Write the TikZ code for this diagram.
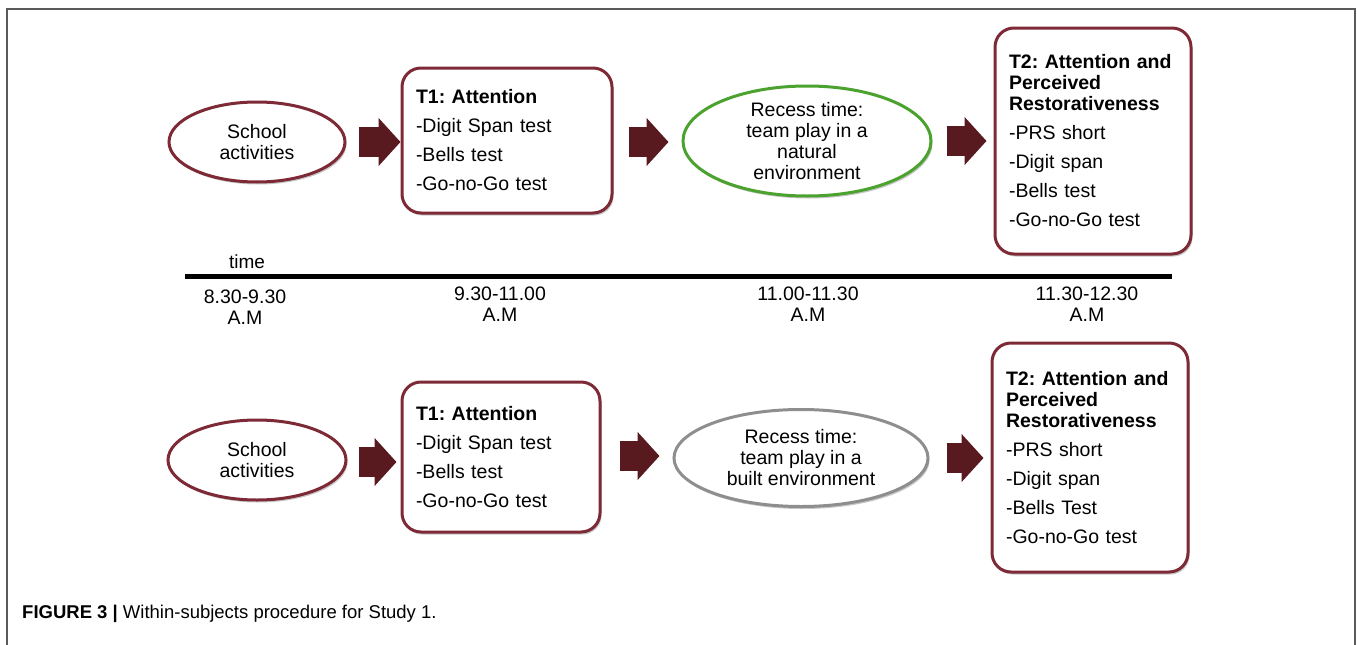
\documentclass[tikz,border=0pt]{standalone}
\usepackage{fontspec}
\setmainfont{Liberation Sans}
\usetikzlibrary{shapes.geometric,arrows.meta,shadows}
\definecolor{maroon}{HTML}{7D2A36}
\definecolor{arrowc}{HTML}{58191F}
\definecolor{natgreen}{HTML}{4CA22E}
\definecolor{builtgray}{HTML}{8E8E8E}
\definecolor{framegray}{HTML}{5A5A5A}
\tikzset{
  base/.style={font=\fontsize{19.5}{21}\selectfont},
  shad/.style={drop shadow={shadow xshift=1.5pt,shadow yshift=-2.5pt,opacity=0.22,fill=black}},
  oval/.style={base,ellipse,draw=maroon,line width=3pt,fill=white,align=center,inner sep=0pt,shad},
  greenoval/.style={oval,draw=natgreen},
  grayoval/.style={oval,draw=builtgray},
  testbox/.style={base,draw=maroon,line width=3pt,fill=white,rounded corners=19pt,align=left,inner xsep=14pt,inner ysep=0pt,shad},
  bigarrow/.style={draw=arrowc,line width=30pt,line cap=butt,-{Triangle[length=22pt,width=47pt]}},
  timelbl/.style={font=\fontsize{19.5}{21}\selectfont,align=center,inner sep=0pt},
  hd/.style={font=\bfseries}
}
\newcommand{\gap}{\\[8pt]}
\frenchspacing
\begin{document}
\begin{tikzpicture}[x=1pt,y=-1pt]
\useasboundingbox (0,0) rectangle (1357,645);
% frame
\draw[framegray,line width=1.6pt] (7,645) -- (7,9) -- (1355,9) -- (1355,645);

% ---------- top row ----------
\node[oval,minimum width=176,minimum height=80] (sa1) at (257,142) {School\\activities};
\node[testbox,text width=182,minimum height=145] (t1a) at (507,140.5)
  {\textbf{T1: Attention}\gap -Digit Span test\gap -Bells test\gap -Go-no-Go test};
\node[greenoval,minimum width=248,minimum height=110] (rna) at (807,141)
  {Recess time:\\team play in a\\natural\\environment};
\node[testbox,text width=168,minimum height=226] (t2a) at (1093,141)
  {\textbf{T2: Attention and}\\\textbf{Perceived}\\\textbf{Restorativeness}\gap -PRS short\gap -Digit span\gap -Bells test\gap -Go-no-Go test};

\draw[bigarrow] ([xshift=12pt]sa1.east) -- ++(42,0);
\draw[bigarrow] ([xshift=15pt,yshift=-1.5pt]t1a.east) -- ++(40,0);
\draw[bigarrow] ([xshift=14pt]rna.east) -- ++(40,0);

% ---------- timeline ----------
\coordinate (tl0) at (185,276);
\coordinate (tl1) at (1172,276);
\draw[black,line width=5pt] (tl0) -- (tl1);
\node[font=\fontsize{19}{21}\selectfont,inner sep=0pt] (tm) at (247,262) {time};
\node[timelbl] (p1) at (245,307) {8.30-9.30\\A.M};
\node[timelbl] (p2) at (500,304) {9.30-11.00\\A.M};
\node[timelbl] (p3) at (808,304) {11.00-11.30\\A.M};
\node[timelbl] (p4) at (1087,304) {11.30-12.30\\A.M};

% ---------- bottom row ----------
\node[oval,minimum width=178,minimum height=80] (sa2) at (257,460) {School\\activities};
\node[testbox,text width=170,minimum height=150] (t1b) at (501,457)
  {\textbf{T1: Attention}\gap -Digit Span test\gap -Bells test\gap -Go-no-Go test};
\node[grayoval,minimum width=254,minimum height=97] (rbb) at (801,458)
  {Recess time:\\team play in a\\built environment};
\node[testbox,text width=168,minimum height=229] (t2b) at (1090,457.5)
  {\textbf{T2: Attention and}\\\textbf{Perceived}\\\textbf{Restorativeness}\gap -PRS short\gap -Digit span\gap -Bells Test\gap -Go-no-Go test};

\draw[bigarrow] ([xshift=11pt,yshift=-2pt]sa2.east) -- ++(38,0);
\draw[bigarrow] ([xshift=18pt,yshift=1pt]t1b.east) -- ++(40,0);
\draw[bigarrow] ([xshift=17pt]rbb.east) -- ++(37,0);

% caption
\node[anchor=west,font=\fontsize{18.5}{21}\selectfont,inner sep=0pt] (cap) at (22,614)
  {\textbf{FIGURE 3 |} Within-subjects procedure for Study 1.};
\end{tikzpicture}
\end{document}
